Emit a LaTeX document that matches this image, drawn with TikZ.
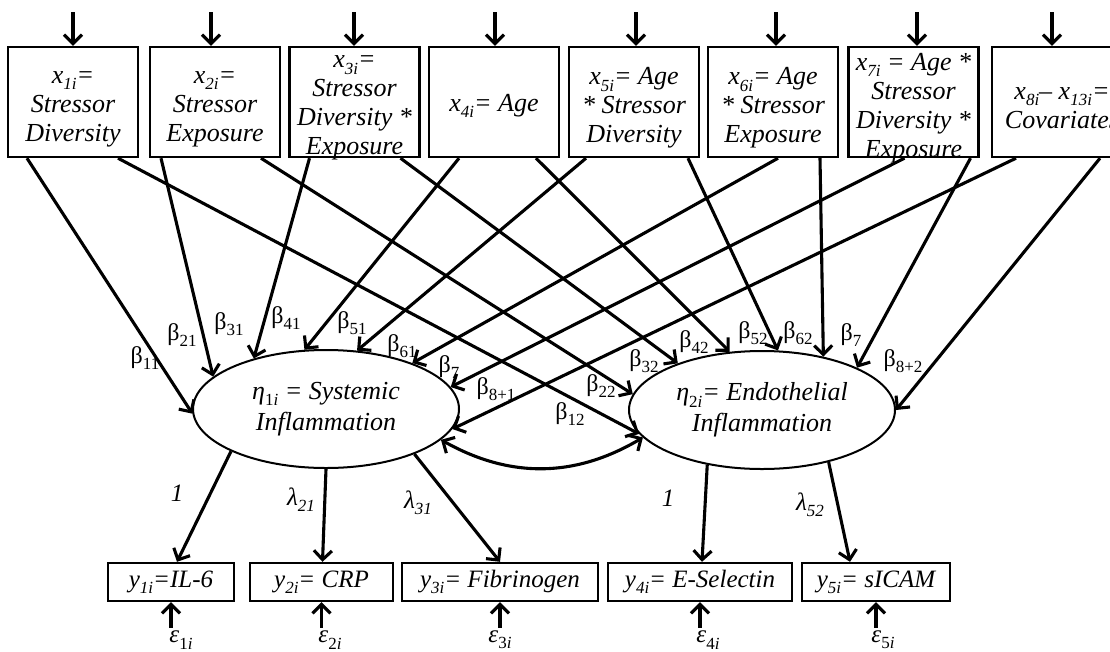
\documentclass[tikz,border=0pt]{standalone}
\usepackage{fontspec}
\setmainfont{Liberation Serif}
\usetikzlibrary{arrows.meta,shapes.geometric,calc}
\newcommand{\blab}[1]{β\raisebox{-0.28em}{\fontsize{17}{17}\selectfont #1}}
\newcommand{\sbi}[1]{\raisebox{-0.25em}{\fontsize{17}{17}\selectfont\itshape #1}}
\newcommand{\sbu}[1]{\raisebox{-0.25em}{\fontsize{17}{17}\selectfont\upshape #1\itshape i}}
\begin{document}
\begin{tikzpicture}[x=1pt,y=-1pt,
  box/.style={draw, line width=2.4pt, minimum width=130pt, minimum height=110pt, inner sep=0pt},
  btxt/.style={align=center, font=\fontsize{26}{29}\selectfont\itshape, inner sep=0pt},
  ybox/.style={draw, line width=2.4pt, minimum height=38pt, inner sep=0pt, font=\fontsize{25}{26}\selectfont\itshape},
  lat/.style={draw, ellipse, line width=2pt, minimum width=266pt, minimum height=118pt, inner sep=0pt, align=center, font=\fontsize{26}{31}\selectfont\itshape},
  arr/.style={line width=3.1pt, -{Straight Barb[length=9pt,width=18pt]}},
  blbl/.style={font=\fontsize{24}{24}\selectfont, inner sep=0pt},
  llbl/.style={font=\fontsize{25}{25}\selectfont\itshape, inner sep=0pt},
  elbl/.style={font=\fontsize{25}{25}\selectfont\itshape, inner sep=0pt}
]
\clip (0,0) rectangle (1110,651);

% top boxes
\node[box] (x1) at (73,102) {};
\node[box] (x2) at (215,102) {};
\node[box] (x3) at (354.5,102) {};
\node[box] (x4) at (494,102) {};
\node[box] (x5) at (634,102) {};
\node[box] (x6) at (773,102) {};
\node[box] (x7) at (913.5,102) {};
\node[box] (x8) at (1057,102) {};

\node[btxt] (t1) at (73,109) {x\sbi{1i}=\\Stressor\\Diversity};
\node[btxt] (t2) at (215,109) {x\sbi{2i}=\\Stressor\\Exposure};
\node[btxt] (t3) at (354.5,108) {x\sbi{3i}=\\Stressor\\Diversity *\\Exposure};
\node[btxt] (t4) at (494,106) {x\sbi{4i}= Age};
\node[btxt] (t5) at (634,108) {x\sbi{5i}= Age\\* Stressor\\Diversity};
\node[btxt] (t6) at (773,108) {x\sbi{6i}= Age\\* Stressor\\Exposure};
\node[btxt] (t7) at (913.5,108) {x\sbi{7i} = Age *\\Stressor\\Diversity *\\Exposure};
\node[btxt] (t8) at (1062,108) {x\sbi{8i}-- x\sbi{13i}=\\Covariates};

% top arrows
\foreach \i/\x in {1/73,2/211,3/354,4/495,5/636,6/776,7/917,8/1052}{
  \coordinate (a\i) at (\x,12);
  \draw[arr] (a\i) -- (a\i |- x\i.north);
}

% latent variables
\node[lat] (eta1) at (326,409) {η\sbu{1} = Systemic\\Inflammation};
\node[lat] (eta2) at (762,410) {η\sbu{2}= Endothelial\\Inflammation};

% paths to eta1
\draw[arr] ($(x1.south)+(-46,0)$) -- (eta1.182);
\draw[arr] ($(x2.south)+(-54,0)$) -- (eta1.164);
\draw[arr] ($(x3.south)+(-45,0)$) -- (eta1.145);
\draw[arr] ($(x4.south)+(-35,0)$) -- (eta1.110);
\draw[arr] ($(x5.south)+(-48,0)$) -- (eta1.62);
\draw[arr] ($(x6.south)+(5,0)$) -- (eta1.28);
\draw[arr] ($(x7.south)+(-9,0)$) -- (eta1.10);
\draw[arr] ($(x8.south)+(-41,0)$) -- (eta1.-9);
% paths to eta2
\draw[arr] ($(x1.south)+(45,0)$) -- (eta2.-169);
\draw[arr] ($(x2.south)+(46,0)$) -- (eta2.173);
\draw[arr] ($(x3.south)+(46,0)$) -- (eta2.151);
\draw[arr] ($(x4.south)+(42,0)$) -- (eta2.119);
\draw[arr] ($(x5.south)+(54,0)$) -- (eta2.75);
\draw[arr] ($(x6.south)+(47,0)$) -- (eta2.41);
\draw[arr] ($(x7.south)+(57,0)$) -- (eta2.24);
\draw[arr] ($(x8.south)+(43,0)$) -- (eta2.0);

% beta labels
\node[blbl] (b11) at (145,358) {\blab{11}};
\node[blbl] (b21) at (182,335) {\blab{21}};
\node[blbl] (b31) at (229,324) {\blab{31}};
\node[blbl] (b41) at (286,318) {\blab{41}};
\node[blbl] (b51) at (352,323) {\blab{51}};
\node[blbl] (b61) at (402,346) {\blab{61}};
\node[blbl] (b71) at (449,367) {\blab{7}};
\node[blbl] (b81) at (496,389) {\blab{8+1}};
\node[blbl] (b12) at (570,414) {\blab{12}};
\node[blbl] (b22) at (601,386) {\blab{22}};
\node[blbl] (b32) at (644,361) {\blab{32}};
\node[blbl] (b42) at (694,342) {\blab{42}};
\node[blbl] (b52) at (753,333) {\blab{52}};
\node[blbl] (b62) at (798,333) {\blab{62}};
\node[blbl] (b72) at (851,335) {\blab{7}};
\node[blbl] (b82) at (903,361) {\blab{8+2}};

% covariance
\draw[line width=3.1pt, {Straight Barb[length=9pt,width=18pt]}-{Straight Barb[length=9pt,width=18pt]}]
  (eta1.-15) to[bend right=30] (eta2.193);

% indicators
\node[ybox, minimum width=126pt] (y1) at (171,582) {y\sbi{1i}=IL-6};
\node[ybox, minimum width=143pt] (y2) at (321.5,582) {y\sbi{2i}= CRP};
\node[ybox, minimum width=196pt] (y3) at (500,582) {y\sbi{3i}= Fibrinogen};
\node[ybox, minimum width=184pt] (y4) at (700,582) {y\sbi{4i}= E-Selectin};
\node[ybox, minimum width=148pt] (y5) at (876,582) {y\sbi{5i}= sICAM};

% loadings
\draw[arr] (eta1.204) -- ($(y1.north)+(6,0)$);
\draw[arr] (eta1.270) -- ($(y2.north)+(1,0)$);
\draw[arr] (eta1.-27) -- (y3.north);
\draw[arr] (eta2.225) -- ($(y4.north)+(2,0)$);
\draw[arr] (eta2.-38) -- ($(y5.north)+(-26,0)$);

\node[llbl] (l11) at (177,493) {1};
\node[llbl] (l21) at (301,500) {λ\sbi{21}};
\node[llbl] (l31) at (418,503) {λ\sbi{31}};
\node[llbl] (l42) at (668,498) {1};
\node[llbl] (l52) at (810,505) {λ\sbi{52}};

% errors
\node[elbl] (e1) at (181,640) {ε\sbu{1}};
\node[elbl] (e2) at (330,640) {ε\sbu{2}};
\node[elbl] (e3) at (500,640) {ε\sbu{3}};
\node[elbl] (e4) at (708,640) {ε\sbu{4}};
\node[elbl] (e5) at (883,640) {ε\sbu{5}};
\draw[arr] ([yshift=3pt]e1.north -| y1.south) -- (y1.south);
\draw[arr] ([yshift=3pt]e2.north -| y2.south) -- (y2.south);
\draw[arr] ([yshift=3pt]e3.north -| y3.south) -- (y3.south);
\draw[arr] ([yshift=3pt]e4.north -| y4.south) -- (y4.south);
\draw[arr] ([yshift=3pt]e5.north -| y5.south) -- (y5.south);
\end{tikzpicture}
\end{document}
